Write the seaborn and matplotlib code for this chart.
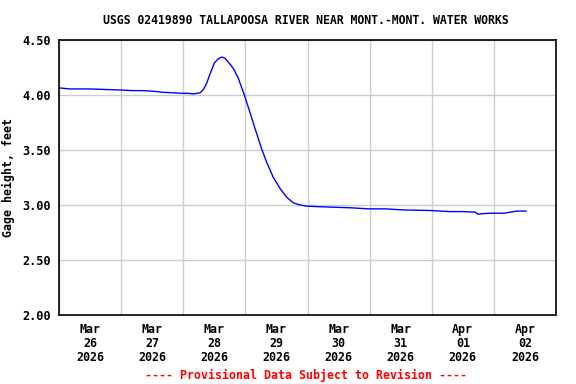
import matplotlib
matplotlib.use("Agg")
import matplotlib.pyplot as plt
import matplotlib.dates as mdates
import numpy as np
import pandas as pd
import seaborn as sns

# hours after 2026-03-26 00:00 and gage height (feet)
hours = [0, 2, 4, 8, 12, 18, 24, 28, 32, 36, 40, 44, 48, 50, 52, 54.5,
         55.8, 57.1, 58, 59, 60, 61.3, 62.9, 64.1, 65.4, 67.4, 69.3, 71.6,
         73.8, 75.8, 78.3, 80.2, 82.8, 85.4, 88, 90.5, 93.1, 95.7, 100,
         106, 112.5, 119.4, 126, 133, 143.4, 151, 156, 160.8, 162, 163,
         166.6, 172, 174.3, 177, 180.5]
gage = [4.065, 4.06, 4.055, 4.055, 4.055, 4.05, 4.045, 4.04, 4.04, 4.035,
        4.025, 4.02, 4.015, 4.015, 4.01, 4.02,
        4.05, 4.11, 4.17, 4.23, 4.29, 4.325, 4.345, 4.335, 4.30, 4.24, 4.15,
        4.00, 3.84, 3.69, 3.51, 3.39, 3.25, 3.15, 3.07, 3.02, 3.00, 2.99,
        2.985, 2.98, 2.975, 2.965, 2.965, 2.955, 2.95, 2.94, 2.94, 2.935,
        2.915, 2.92, 2.925, 2.925, 2.935, 2.945, 2.945]

ticks_y = [2.00, 2.50, 3.00, 3.50, 4.00, 4.50]

start = pd.Timestamp("2026-03-26 00:00")
times = [start + pd.Timedelta(hours=h) for h in hours]
df = pd.DataFrame({"time": times, "gage": gage})

sns.set_style("white")
plt.rcParams["text.color"] = "black"
plt.rcParams["xtick.color"] = "black"
plt.rcParams["ytick.color"] = "black"
plt.rcParams["axes.labelcolor"] = "black"
mono = ["DejaVu Sans Mono"]

fig = plt.figure(figsize=(5.76, 3.84), dpi=100)
ax = fig.add_axes([59 / 576, 1 - 315 / 384, 497 / 576, 275 / 384])

sns.lineplot(data=df, x="time", y="gage", ax=ax, color="#0000ff", linewidth=1.0)

ax.set_xlim(start, start + pd.Timedelta(days=8))
ax.set_ylim(2.0, 4.5)
ax.set_yticks(ticks_y)
ax.set_yticklabels(["%.2f" % t for t in ticks_y], family=mono, fontweight="bold", fontsize=8.6)

ax.xaxis.set_major_locator(mdates.DayLocator())
ax.xaxis.set_major_formatter(plt.NullFormatter())
ax.xaxis.set_minor_locator(mdates.HourLocator(byhour=[12]))
ax.xaxis.set_minor_formatter(mdates.DateFormatter("%b\n%d\n%Y"))
for lab in ax.xaxis.get_minorticklabels():
    lab.set_family(mono)
    lab.set_fontweight("bold")
    lab.set_fontsize(8.4)
    lab.set_linespacing(1.08)
ax.tick_params(axis="x", which="major", length=0)
ax.tick_params(axis="x", which="minor", length=0, pad=6)
ax.tick_params(axis="y", which="major", length=4, color="#cccccc", pad=2)

ax.grid(True, which="major", color="#cccccc", linewidth=1.0)
for s in ax.spines.values():
    s.set_color("black")
    s.set_linewidth(1.2)

ax.set_xlabel("")
ax.set_ylabel("Gage height, feet", family=mono, fontweight="bold", fontsize=8.4, labelpad=5)

fig.text(306 / 576, 1 - 20 / 384, "USGS 02419890 TALLAPOOSA RIVER NEAR MONT.-MONT. WATER WORKS",
         ha="center", va="center", family=mono, fontweight="bold", fontsize=8.3)
fig.text(306 / 576, 1 - 375 / 384, "---- Provisional Data Subject to Revision ----",
         ha="center", va="center", family=mono, fontweight="bold", fontsize=8.4, color="red")

fig.savefig("out.png", dpi=100)
